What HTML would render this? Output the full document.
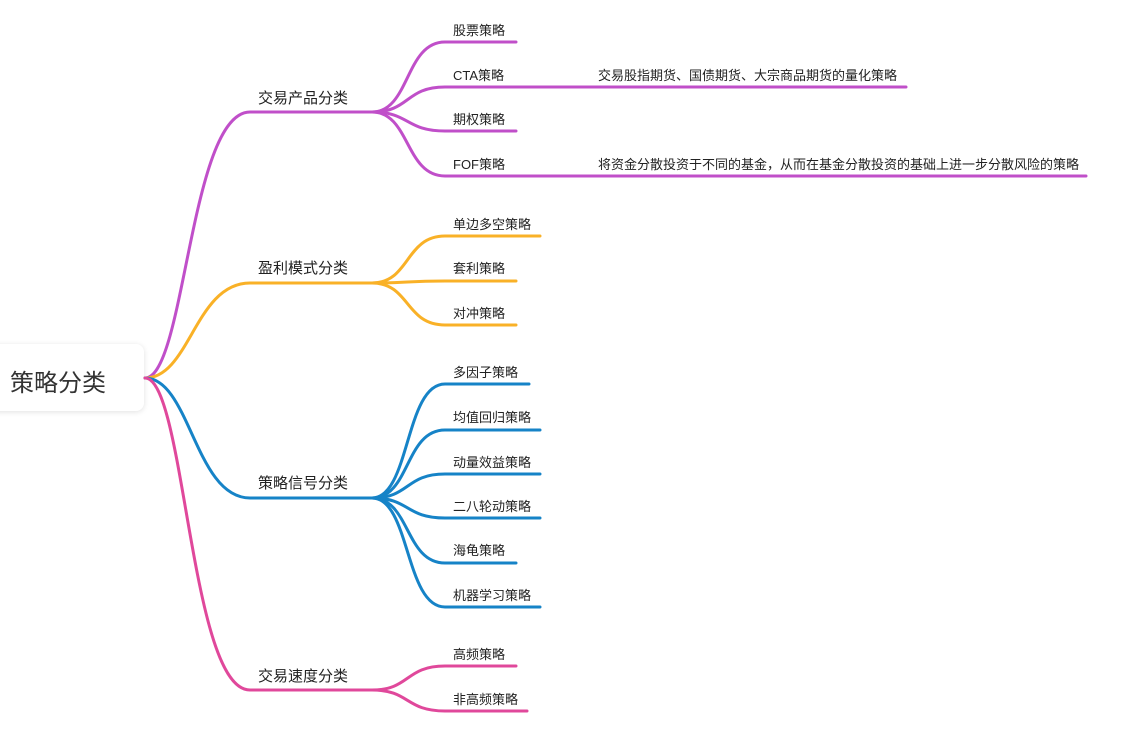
<!DOCTYPE html>
<html><head><meta charset="utf-8"><style>
body{margin:0;background:#fff;width:1139px;height:753px;overflow:hidden;position:relative;font-family:"Liberation Sans","Noto Sans CJK SC",sans-serif}
.root{position:absolute;left:-10px;top:344px;width:154px;height:67px;background:#fff;border-radius:8px;box-shadow:0 1px 6px rgba(0,0,0,0.12)}
.root span{position:absolute;left:20px;top:19px;font-size:24px;color:#333}
</style></head><body>
<div class="root"><span>策略分类</span></div>
<svg width="1139" height="753" style="position:absolute;left:0;top:0" font-family="Liberation Sans, Noto Sans CJK SC, sans-serif">
<g fill="none" stroke-width="3" stroke-linecap="round">
<g stroke="#c04fc9">
<path d="M145,378 C185,378 190,112 250,112 L372,112"/>
<path d="M372,112 C410,112 405,42 445,42 L516,42"/>
<path d="M372,112 C410,112 405,87 445,87 L906,87"/>
<path d="M372,112 C410,112 405,131 445,131 L516,131"/>
<path d="M372,112 C410,112 405,176 445,176 L1086,176"/>
</g>
<g stroke="#f9b127">
<path d="M145,378 C190,378 195,283 250,283 L372,283"/>
<path d="M372,283 C410,283 405,236 445,236 L540,236"/>
<path d="M372,283 C410,283 405,281 445,281 L516,281"/>
<path d="M372,283 C410,283 405,325 445,325 L516,325"/>
</g>
<g stroke="#1683c7">
<path d="M145,378 C190,378 195,498 250,498 L372,498"/>
<path d="M372,498 C410,498 405,384 445,384 L529,384"/>
<path d="M372,498 C410,498 405,430 445,430 L540,430"/>
<path d="M372,498 C410,498 405,474 445,474 L540,474"/>
<path d="M372,498 C410,498 405,518 445,518 L540,518"/>
<path d="M372,498 C410,498 405,563 445,563 L516,563"/>
<path d="M372,498 C410,498 405,607 445,607 L540,607"/>
</g>
<g stroke="#e0489b">
<path d="M145,378 C185,378 190,690 250,690 L372,690"/>
<path d="M372,690 C410,690 405,666 445,666 L516,666"/>
<path d="M372,690 C410,690 405,711 445,711 L527,711"/>
</g>
</g>
<g fill="#222" font-size="15">
<text x="258" y="103">交易产品分类</text>
<text x="258" y="273">盈利模式分类</text>
<text x="258" y="488">策略信号分类</text>
<text x="258" y="681">交易速度分类</text>
</g>
<g fill="#222" font-size="13">
<text x="453" y="35">股票策略</text>
<text x="453" y="80">CTA策略</text>
<text x="598" y="80">交易股指期货、国债期货、大宗商品期货的量化策略</text>
<text x="453" y="124">期权策略</text>
<text x="453" y="169">FOF策略</text>
<text x="598" y="169">将资金分散投资于不同的基金，从而在基金分散投资的基础上进一步分散风险的策略</text>
<text x="453" y="229">单边多空策略</text>
<text x="453" y="273">套利策略</text>
<text x="453" y="318">对冲策略</text>
<text x="453" y="377">多因子策略</text>
<text x="453" y="422">均值回归策略</text>
<text x="453" y="467">动量效益策略</text>
<text x="453" y="511">二八轮动策略</text>
<text x="453" y="555">海龟策略</text>
<text x="453" y="600">机器学习策略</text>
<text x="453" y="659">高频策略</text>
<text x="453" y="704">非高频策略</text>
</g>
</svg>
</body></html>
